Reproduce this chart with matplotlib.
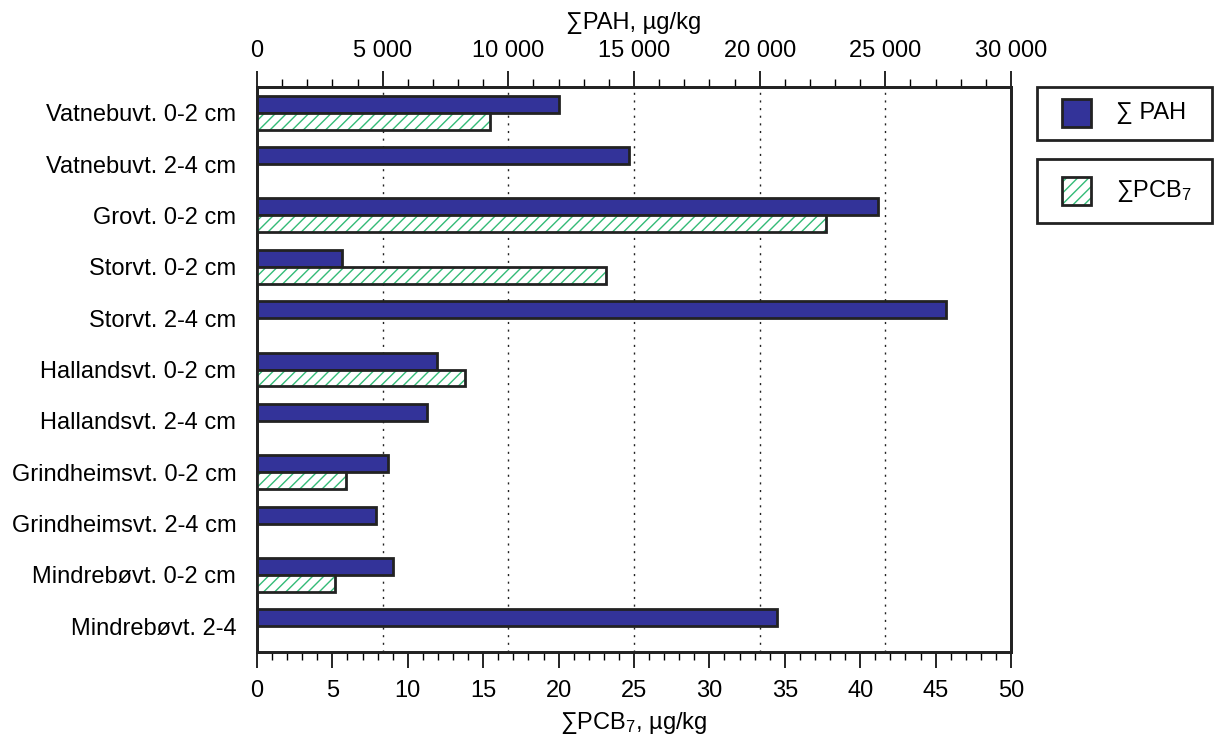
import matplotlib.pyplot as plt
from matplotlib.patches import Rectangle
from matplotlib.ticker import MultipleLocator, FuncFormatter, FixedLocator

plt.rcParams['font.family'] = ['Liberation Sans', 'DejaVu Sans']
plt.rcParams['mathtext.fontset'] = 'custom'
plt.rcParams['mathtext.rm'] = 'Liberation Sans'
plt.rcParams['mathtext.it'] = 'Liberation Sans'
plt.rcParams['hatch.linewidth'] = 1.0

stations = ["Vatnebuvt. 0-2 cm", "Vatnebuvt. 2-4 cm", "Grovt. 0-2 cm", "Storvt. 0-2 cm",
            "Storvt. 2-4 cm", "Hallandsvt. 0-2 cm", "Hallandsvt. 2-4 cm",
            "Grindheimsvt. 0-2 cm", "Grindheimsvt. 2-4 cm", "Mindrebøvt. 0-2 cm",
            "Mindrebøvt. 2-4"]
pah = [12000, 14800, 24700, 3400, 27400, 7150, 6780, 5200, 4750, 5400, 20700]
pcb = [15.45, None, 37.7, 23.15, None, 13.8, None, 5.9, None, 5.2, None]

blue = '#333399'
green = '#33bb77'
fs = 17

fig = plt.figure(figsize=(12.16, 7.35), dpi=100)
ax = fig.add_axes([257/1216, 1-652/735, 754/1216, 565/735])
ax2 = ax.twiny()

n = len(stations)
bh = 0.33
for i, v in enumerate(pah):
    ax.barh(i + 0.5 - bh/2, v, height=bh, color=blue, edgecolor='#222222', linewidth=2, zorder=3)
for i, v in enumerate(pcb):
    if v is None:
        continue
    ax2.barh(i + 0.5 + bh/2, v, height=bh, color='white', edgecolor=green,
             hatch='///', linewidth=0, zorder=3)
    ax2.barh(i + 0.5 + bh/2, v, height=bh, color='none', edgecolor='#222222',
             linewidth=2, zorder=4)

ax.set_xlim(0, 30000)
ax2.set_xlim(0, 50)
ax.set_ylim(n, 0)
ax2.set_ylim(n, 0)

# PAH axis on top
ax.xaxis.set_ticks_position('top')
ax.xaxis.set_label_position('top')
ax.xaxis.set_major_locator(MultipleLocator(5000))
ax.xaxis.set_minor_locator(MultipleLocator(1000))
ax.xaxis.set_major_formatter(FuncFormatter(lambda x, p: f"{int(x):,}".replace(',', ' ')))
ax.set_xlabel('∑PAH, µg/kg', fontsize=fs, labelpad=8)

# PCB axis on bottom
ax2.xaxis.set_ticks_position('bottom')
ax2.xaxis.set_label_position('bottom')
ax2.xaxis.set_major_locator(MultipleLocator(5))
ax2.xaxis.set_minor_locator(MultipleLocator(1))
ax2.set_xlabel('∑PCB$_7$, µg/kg', fontsize=fs, labelpad=6)

# category axis
ax.yaxis.set_major_locator(FixedLocator(range(0, n + 1)))
ax.yaxis.set_major_formatter(FuncFormatter(lambda y, p: ''))
ax.yaxis.set_minor_locator(FixedLocator([i + 0.5 for i in range(n)]))
ax.set_yticklabels(stations, minor=True)
ax.tick_params(axis='y', which='major', direction='out', length=11, width=1.2)
ax.tick_params(axis='y', which='minor', length=0, pad=15, labelsize=fs)
ax2.set_yticks([])

ax.tick_params(axis='x', which='major', direction='out', length=11.5, width=1.2, labelsize=fs, pad=6.5)
ax2.tick_params(axis='x', which='major', direction='out', length=11.5, width=1.2, labelsize=fs, pad=8.5)
for a in (ax, ax2):
    a.tick_params(axis='x', which='minor', direction='out', length=5.5, width=1.0)
    for s in a.spines.values():
        s.set_linewidth(2)
        s.set_color('#222222')

ax.set_axisbelow(True)
ax.grid(True, which='major', color='#222222', linestyle=(0, (1.5, 4)), linewidth=1.0)

# legend boxes
def legend_box(y0, y1, sy0, label, hatched):
    fig.patches.append(Rectangle((1037/1216, 1-y1/735), 175/1216, (y1-y0)/735,
                                 transform=fig.transFigure, fill=False,
                                 edgecolor='#222222', linewidth=2))
    if hatched:
        fig.patches.append(Rectangle((1062/1216, 1-(sy0+28)/735), 29/1216, 28/735,
                                     transform=fig.transFigure, facecolor='white',
                                     edgecolor=green, hatch='///', linewidth=0))
        fig.patches.append(Rectangle((1062/1216, 1-(sy0+28)/735), 29/1216, 28/735,
                                     transform=fig.transFigure, fill=False,
                                     edgecolor='#222222', linewidth=2))
    else:
        fig.patches.append(Rectangle((1062/1216, 1-(sy0+28)/735), 29/1216, 28/735,
                                     transform=fig.transFigure, facecolor=blue,
                                     edgecolor='#222222', linewidth=2))
    fig.text(1116/1216, 1-(sy0+14)/735, label, fontsize=fs, va='center', ha='left')

legend_box(87, 140, 99, '∑ PAH', False)
legend_box(159, 223, 177, '∑PCB$_7$', True)

fig.savefig('out.png', dpi=100)
